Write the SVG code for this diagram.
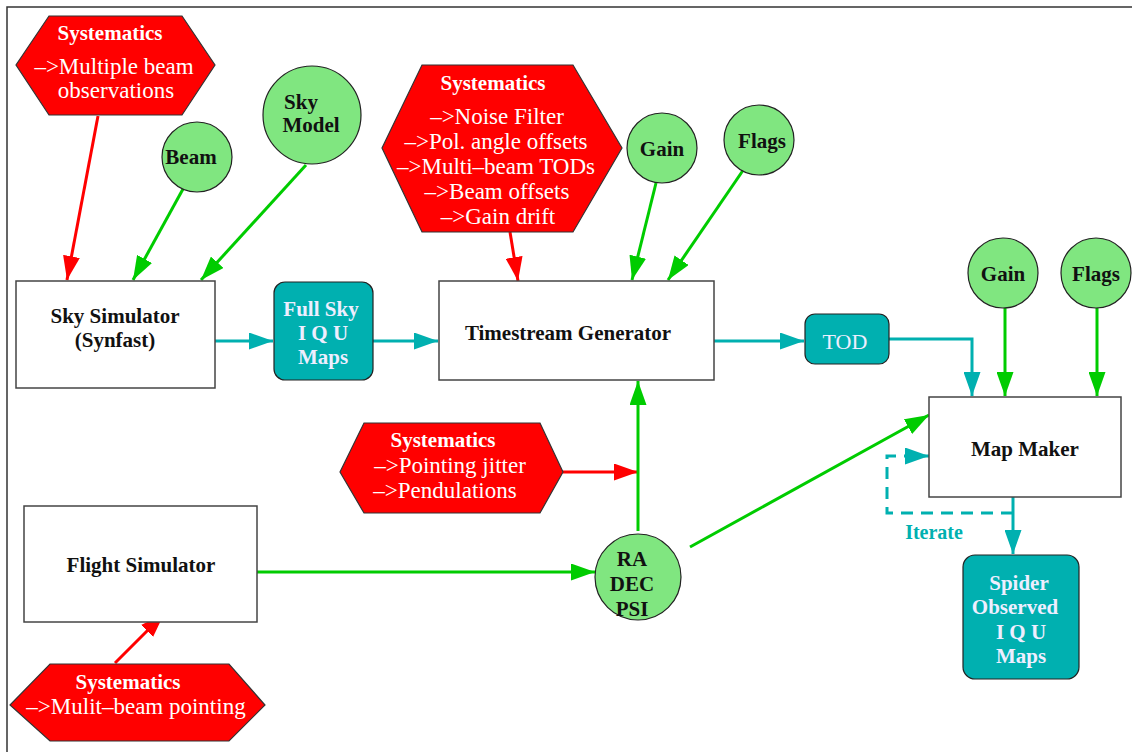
<svg xmlns="http://www.w3.org/2000/svg" width="1132" height="752" viewBox="0 0 1132 752">
<style>
.frame{fill:none;stroke:#333;stroke-width:1.5}
.box{fill:#fff;stroke:#444;stroke-width:1.5}
.cy{fill:#00b0b0;stroke:#222;stroke-width:1.2}
.hex{fill:#ff0000;stroke:#333;stroke-width:1.2}
.circ{fill:#80e680;stroke:#222;stroke-width:1.2}
text{font-family:"Liberation Serif",serif;text-anchor:middle}
.lb{font-weight:bold;font-size:21px;fill:#111}
.wb{font-weight:bold;font-size:21px;fill:#fff}
.wr{font-size:23px;fill:#fff}
.cw{font-weight:bold;font-size:21px;fill:#eef}
.tod{font-size:22px;fill:#eef}
.it{font-weight:bold;font-size:20px;fill:#00b0b0}
.er{fill:none;stroke:#ff0000;stroke-width:3;marker-end:url(#ar)}
.eg{fill:none;stroke:#00cc00;stroke-width:3;marker-end:url(#ag)}
.ec{fill:none;stroke:#00b0b0;stroke-width:3;marker-end:url(#ac)}
.ed{fill:none;stroke:#00b0b0;stroke-width:3;stroke-dasharray:12,8;marker-end:url(#ac)}
</style>
<defs>
<marker id="ar" markerUnits="userSpaceOnUse" markerWidth="24" markerHeight="17" refX="24" refY="8.5" orient="auto"><path d="M0,0 L24,8.5 L0,17 z" fill="#ff0000"/></marker>
<marker id="ag" markerUnits="userSpaceOnUse" markerWidth="24" markerHeight="17" refX="24" refY="8.5" orient="auto"><path d="M0,0 L24,8.5 L0,17 z" fill="#00cc00"/></marker>
<marker id="ac" markerUnits="userSpaceOnUse" markerWidth="24" markerHeight="17" refX="24" refY="8.5" orient="auto"><path d="M0,0 L24,8.5 L0,17 z" fill="#00b0b0"/></marker>
</defs>
<rect width="1132" height="752" fill="#fff"/>
<path class="frame" d="M7,752 L7,7 L1132,7"/>

<g id="connectors">
<path class="er" d="M98,116 L67,280"/>
<path class="eg" d="M183,189 L133,280"/>
<path class="eg" d="M306,165 L201,280"/>
<path class="ec" d="M215,341 L273,341"/>
<path class="ec" d="M373,341 L438,341"/>
<path class="er" d="M510,232 L518,281"/>
<path class="eg" d="M656,183 L632,280"/>
<path class="eg" d="M746,166 L668,280"/>
<path class="ec" d="M714,341 L804,341"/>
<path class="ec" d="M889,339 L972,339 L972,396"/>
<path class="eg" d="M1005,308 L1005,396"/>
<path class="eg" d="M1097,308 L1097,396"/>
<path class="er" d="M563,472 L638,472"/>
<path class="eg" d="M638,531 L638,381"/>
<path class="eg" d="M257,572 L595,572"/>
<path class="eg" d="M690,547 L929,415"/>
<path class="er" d="M115,663 L164,614"/>
<path class="ec" d="M1013,497 L1013,554"/>
<path class="ed" d="M1013,513 L887,513 L887,456 L929,456"/>
<text class="it" x="934" y="539">Iterate</text>
</g>

<g id="sys1">
<polygon class="hex" points="49,16 182,16 215,65 182,115 49,115 16,65"/>
<text class="wb" x="110" y="40">Systematics</text>
<text class="wr" x="114" y="74">–&gt;Multiple beam</text>
<text class="wr" x="116" y="98">observations</text>
</g>
<g id="beam">
<circle class="circ" cx="197" cy="157" r="35"/>
<text class="lb" x="191" y="164">Beam</text>
</g>
<g id="skymodel">
<circle class="circ" cx="312" cy="115" r="49"/>
<text class="lb" x="301" y="109">Sky</text>
<text class="lb" x="311" y="132">Model</text>
</g>
<g id="skysim">
<rect class="box" x="16" y="281" width="199" height="107"/>
<text class="lb" x="115" y="323">Sky Simulator</text>
<text class="lb" x="115" y="347">(Synfast)</text>
</g>
<g id="fullsky">
<rect class="cy" x="274" y="282" width="99" height="98" rx="11"/>
<text class="cw" x="321" y="316">Full Sky</text>
<text class="cw" x="323" y="340">I Q U</text>
<text class="cw" x="323" y="364">Maps</text>
</g>
<g id="sys2">
<polygon class="hex" points="422,65 573,65 622,148 573,232 422,232 382,148"/>
<text class="wb" x="493" y="90">Systematics</text>
<text class="wr" x="497" y="124">–&gt;Noise Filter</text>
<text class="wr" x="496" y="149">–&gt;Pol. angle offsets</text>
<text class="wr" x="496" y="174">–&gt;Multi–beam TODs</text>
<text class="wr" x="497" y="199">–&gt;Beam offsets</text>
<text class="wr" x="498" y="224">–&gt;Gain drift</text>
</g>
<g id="gain1">
<circle class="circ" cx="662" cy="148" r="35"/>
<text class="lb" x="662" y="156">Gain</text>
</g>
<g id="flags1">
<circle class="circ" cx="759" cy="140" r="35"/>
<text class="lb" x="762" y="148">Flags</text>
</g>
<g id="timestream">
<rect class="box" x="439" y="281" width="275" height="99"/>
<text class="lb" x="568" y="340">Timestream Generator</text>
</g>
<g id="tod">
<rect class="cy" x="805" y="314" width="84" height="50" rx="10"/>
<text class="tod" x="845" y="349">TOD</text>
</g>
<g id="gain2">
<circle class="circ" cx="1003" cy="273" r="35"/>
<text class="lb" x="1003" y="281">Gain</text>
</g>
<g id="flags2">
<circle class="circ" cx="1096" cy="273" r="35"/>
<text class="lb" x="1096" y="281">Flags</text>
</g>
<g id="mapmaker">
<rect class="box" x="929" y="397" width="192" height="100"/>
<text class="lb" x="1025" y="456">Map Maker</text>
</g>
<g id="spider">
<rect class="cy" x="963" y="555" width="116" height="124" rx="12"/>
<text class="cw" x="1019" y="590">Spider</text>
<text class="cw" x="1015" y="614">Observed</text>
<text class="cw" x="1021" y="639">I Q U</text>
<text class="cw" x="1021" y="663">Maps</text>
</g>
<g id="sys3">
<polygon class="hex" points="364,423 540,423 563,472 540,513 364,513 340,472"/>
<text class="wb" x="443" y="447">Systematics</text>
<text class="wr" x="450" y="473">–&gt;Pointing jitter</text>
<text class="wr" x="445" y="498">–&gt;Pendulations</text>
</g>
<g id="radec">
<circle class="circ" cx="638" cy="577" r="43"/>
<text class="lb" x="632" y="566">RA</text>
<text class="lb" x="632" y="591">DEC</text>
<text class="lb" x="632" y="616">PSI</text>
</g>
<g id="flightsim">
<rect class="box" x="24" y="506" width="233" height="116"/>
<text class="lb" x="141" y="572">Flight Simulator</text>
</g>
<g id="sys4">
<polygon class="hex" points="50,664 229,664 265,705 229,741 50,741 10,705"/>
<text class="wb" x="128" y="689">Systematics</text>
<text class="wr" x="136" y="714">–&gt;Mulit–beam pointing</text>
</g>
</svg>
